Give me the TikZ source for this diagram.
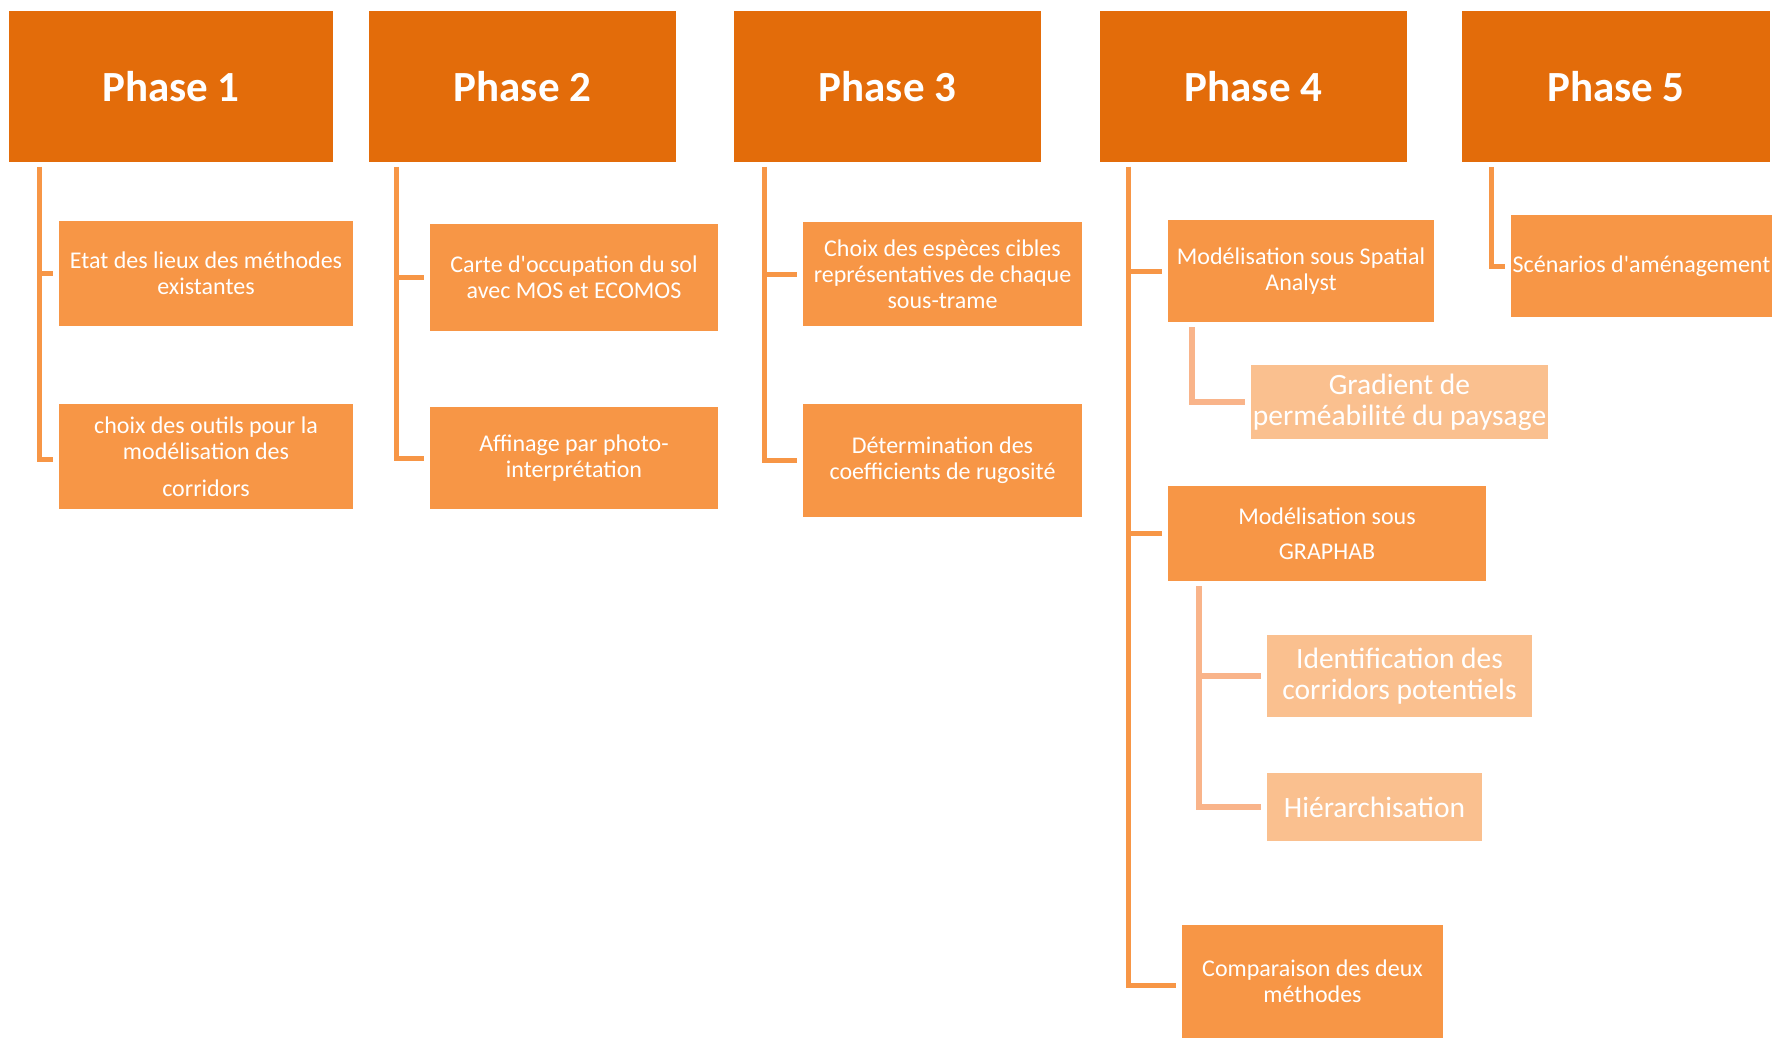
\documentclass[tikz,border=0pt]{standalone}
\usepackage{fontspec}
\setmainfont{Carlito}[Ligatures=TeXOff]
\definecolor{hdr}{HTML}{E36C0A}
\definecolor{lone}{HTML}{F79646}
\definecolor{ltwo}{HTML}{FAC08F}
\definecolor{subln}{HTML}{F9B48A}
\begin{document}
\begin{tikzpicture}[x=1pt,y=-1pt,
  header/.style={fill=hdr, text=white, inner sep=0pt, font=\fontsize{43}{46}\selectfont\bfseries},
  boxone/.style={fill=lone, text=white, inner sep=0pt, align=center, font=\fontsize{24}{26}\selectfont},
  boxtwo/.style={fill=ltwo, text=white, inner sep=0pt, align=center, font=\fontsize{29.5}{31}\selectfont},
  conn/.style={draw=lone, line width=5pt, shorten >=6pt},
  subconn/.style={draw=subln, line width=5.5pt, shorten >=6pt}]
\useasboundingbox (0,0) rectangle (1773,1038);
% headers
\node[header, minimum width=324pt, minimum height=151pt] (p1) at (171,86.5) {Phase 1};
\node[header, minimum width=307pt, minimum height=151pt] (p2) at (522.5,86.5) {Phase 2};
\node[header, minimum width=307pt, minimum height=151pt] (p3) at (887.5,86.5) {Phase 3};
\node[header, minimum width=307pt, minimum height=151pt] (p4) at (1253.5,86.5) {Phase 4};
\node[header, minimum width=308pt, minimum height=151pt] (p5) at (1616,86.5) {Phase 5};
% phase 1
\node[boxone, minimum width=294pt, minimum height=105pt] (e1) at (206,273.5) {Etat des lieux des méthodes\\existantes};
\node[boxone, minimum width=294pt, minimum height=105pt] (e2) at (206,456.5) {choix des outils pour la\\modélisation des\\[11pt]corridors};
% phase 2
\node[boxone, minimum width=288pt, minimum height=107pt] (c1) at (574,277.5) {Carte d'occupation du sol\\avec MOS et ECOMOS};
\node[boxone, minimum width=288pt, minimum height=102pt] (c2) at (574,458) {Affinage par photo-\\interprétation};
% phase 3
\node[boxone, minimum width=279pt, minimum height=104pt] (d1) at (942.5,274) {Choix des espèces cibles\\représentatives de chaque\\sous-trame};
\node[boxone, minimum width=279pt, minimum height=113pt] (d2) at (942.5,460.5) {Détermination des\\coefficients de rugosité};
% phase 4
\node[boxone, minimum width=266pt, minimum height=102pt] (m1) at (1301,271) {Modélisation sous Spatial\\Analyst};
\node[boxtwo, minimum width=297pt, minimum height=74pt] (g1) at (1399.5,402) {Gradient de\\perméabilité du paysage};
\node[boxone, minimum width=318pt, minimum height=95pt] (m2) at (1327,533.5) {Modélisation sous\\[9pt]GRAPHAB};
\node[boxtwo, minimum width=265pt, minimum height=82pt] (i1) at (1399.5,676) {Identification des\\corridors potentiels};
\node[boxtwo, minimum width=215pt, minimum height=68pt] (h1) at (1374.5,807) {Hiérarchisation};
\node[boxone, minimum width=261pt, minimum height=113pt] (m3) at (1312.5,981.5) {Comparaison des deux\\méthodes};
% phase 5
\node[boxone, minimum width=261pt, minimum height=102pt] (s1) at (1641.5,266) {Scénarios d'aménagement};
% connector tops
\coordinate (t1) at (39.5,167);
\coordinate (t2) at (396,167);
\coordinate (t3) at (764,167);
\coordinate (t4) at (1128.5,167);
\coordinate (t5) at (1491,167);
\coordinate (u1) at (1192,327);
\coordinate (u2) at (1199,586);
% connectors
\draw[conn] (t1) |- (e1);
\draw[conn] (t1) |- ([yshift=-2.5pt]e2.west);
\draw[conn] (t2) |- (c1);
\draw[conn] (t2) |- (c2);
\draw[conn] (t3) |- (d1);
\draw[conn] (t3) |- (d2);
\draw[conn] (t4) |- (m1);
\draw[conn] (t4) |- (m2);
\draw[conn] (t4) |- ([yshift=-4pt]m3.west);
\draw[conn] (t5) |- (s1);
\draw[subconn] (u1) |- (g1);
\draw[subconn] (u2) |- (i1);
\draw[subconn] (u2) |- (h1);
\end{tikzpicture}
\end{document}
